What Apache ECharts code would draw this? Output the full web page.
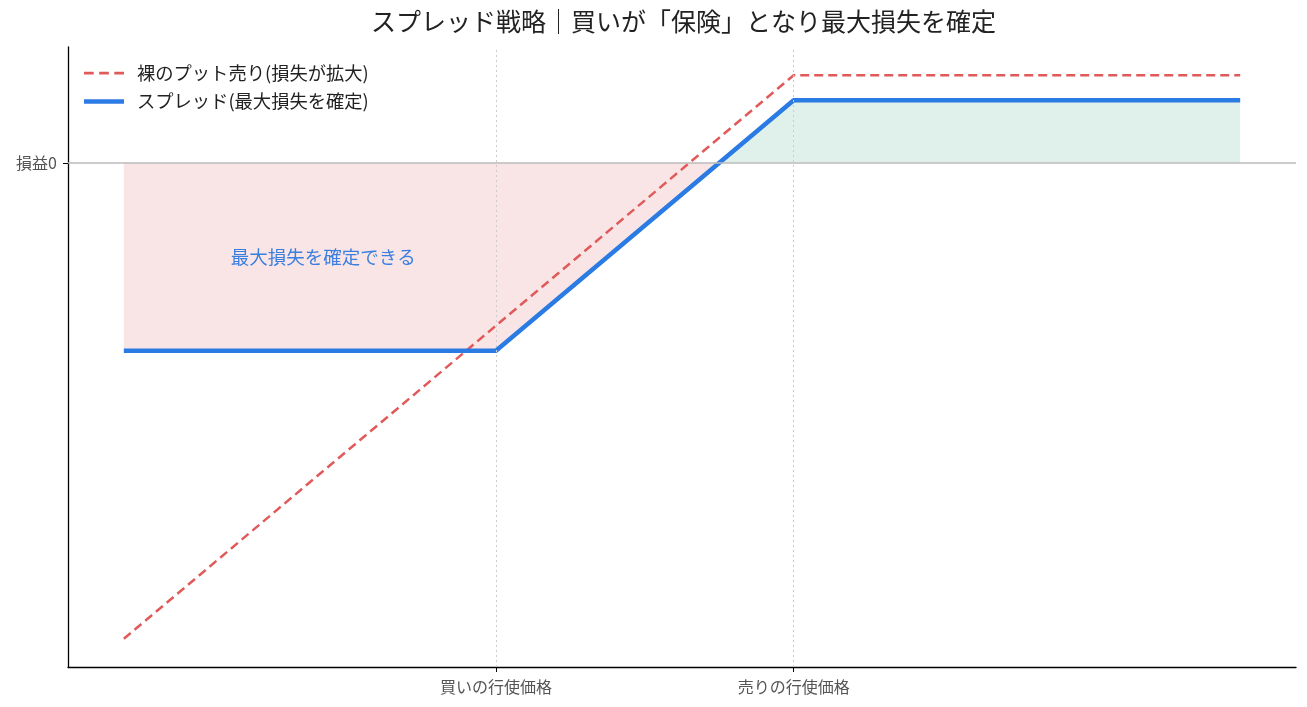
<!DOCTYPE html>
<html>
<head>
  <meta charset="utf-8">
  <title>スプレッド戦略</title>
  <script src="https://cdn.jsdelivr.net/npm/echarts@6/dist/echarts.min.js"></script>
  <style>
    html, body { margin: 0; padding: 0; background: #fff; }
    #main { width: 1307px; height: 707px; }
  </style>
</head>
<body>
  <div id="main"></div>

  <script>
    // 原資産価格と損益
    const strikeBuy = 90;
    const strikeSell = 100;
    const nakedPut = [[77.5, -19], [100, 3.5], [115, 3.5]];
    const spread = [[77.5, -7.5], [90, -7.5], [100, 2.5], [115, 2.5]];
    const breakEven = 97.5;
    const xTickValues = [strikeBuy, strikeSell];
    const xTickLabels = ['買いの行使価格', '売りの行使価格'];
    const yTickValues = [0];
    const yTickLabels = ['損益0'];
    const note = { x: 84.2, y: -3.75, text: '最大損失を確定できる' };

    const lossArea = spread.filter(p => p[1] <= 0).concat([[breakEven, 0]]);
    const gainArea = [[breakEven, 0]].concat(spread.filter(p => p[1] >= 0));

    const font = '"Noto Sans CJK JP", "Noto Sans", sans-serif';
    const chart = echarts.init(document.getElementById('main'));
    const option = {
      animation: false,
      textStyle: { fontFamily: font },
      title: {
        text: 'スプレッド戦略｜買いが「保険」となり最大損失を確定',
        left: 366, top: 4,
        textStyle: { fontSize: 25, fontWeight: 'normal', color: '#222', fontFamily: font }
      },
      legend: {
        left: 79, top: 59, orient: 'vertical', itemGap: 10,
        itemWidth: 40, itemHeight: 20,
        textStyle: { fontSize: 18.3, color: '#222', fontFamily: font, padding: [0, 0, 0, 8] },
        data: [
          { name: '裸のプット売り(損失が拡大)', icon: 'path://M0,9h9v2.5h-9z M14,9h9v2.5h-9z M28,9h9v2.5h-9z', itemStyle: { color: '#e05a5a' } },
          { name: 'スプレッド(最大損失を確定)', icon: 'path://M0,8h40v4.5h-40z', itemStyle: { color: '#2b7be4' } }
        ]
      },
      grid: { left: 68, right: 11, top: 47, bottom: 40 },
      xAxis: {
        type: 'value', min: 75.625, max: 116.875,
        splitLine: { show: false },
        axisLine: { onZero: false, lineStyle: { color: '#000', width: 1.3 } },
        axisTick: { show: true, customValues: xTickValues, length: 5, lineStyle: { color: '#000' } },
        axisLabel: {
          customValues: xTickValues,
          formatter: v => xTickLabels[xTickValues.indexOf(v)] || '',
          fontSize: 16, color: '#555', margin: 12
        }
      },
      yAxis: {
        type: 'value', min: -20.125, max: 4.625,
        splitLine: { show: false },
        axisLine: { show: true, onZero: false, lineStyle: { color: '#000', width: 1.3 } },
        axisTick: { show: true, customValues: yTickValues, length: 5, lineStyle: { color: '#000' } },
        axisLabel: {
          customValues: yTickValues,
          formatter: v => yTickLabels[yTickValues.indexOf(v)] || '',
          fontSize: 16, color: '#555', margin: 11
        }
      },
      series: [
        {
          name: 'loss', type: 'line', data: lossArea, symbol: 'none', silent: true,
          lineStyle: { width: 0 }, areaStyle: { color: '#dc5258', opacity: 0.15 }, z: 1,
          markLine: {
            silent: true, symbol: 'none', label: { show: false },
            lineStyle: { color: '#bbb', type: 'solid', width: 1.5 },
            data: [{ yAxis: 0 }]
          }
        },
        {
          name: 'gain', type: 'line', data: gainArea, symbol: 'none', silent: true,
          lineStyle: { width: 0 }, areaStyle: { color: '#309b73', opacity: 0.15 }, z: 1,
          markLine: {
            silent: true, symbol: 'none', label: { show: false },
            lineStyle: { color: '#ccc', type: [2, 3], width: 1 },
            data: xTickValues.map(v => ({ xAxis: v }))
          }
        },
        {
          name: '裸のプット売り(損失が拡大)', type: 'line', data: nakedPut, symbol: 'none',
          lineStyle: { color: '#e05a5a', width: 2.5, type: [9, 5] }, z: 3
        },
        {
          name: 'スプレッド(最大損失を確定)', type: 'line', data: spread, symbol: 'none',
          lineStyle: { color: '#2b7be4', width: 4.5 }, z: 4,
          markPoint: {
            silent: true, symbol: 'circle', symbolSize: 0,
            label: { show: true, formatter: note.text, fontSize: 18.5, color: '#3a7fe0', fontFamily: font },
            data: [{ coord: [note.x, note.y] }]
          }
        }
      ]
    };
    chart.setOption(option);
  </script>
</body>
</html>
